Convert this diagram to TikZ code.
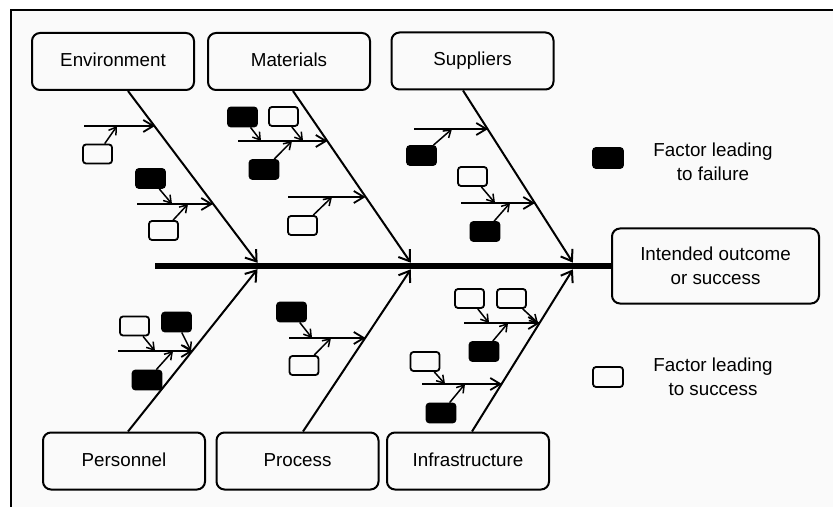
\documentclass[tikz,border=0pt]{standalone}
\usepackage{fontspec}
\setmainfont{Liberation Sans}
\usetikzlibrary{arrows.meta}

\begin{document}
\begin{tikzpicture}[x=0.5pt, y=-0.5pt,
    every node/.style={font=\fontsize{9.4}{12}\selectfont},
    box/.style={draw, rounded corners=4pt, line width=1pt, minimum width=81pt, minimum height=28.5pt},
    cat/.style={box, text height=7pt, text depth=2pt},
    good/.style={draw, rounded corners=1.5pt, line width=0.9pt, minimum width=14.5pt, minimum height=9.5pt, inner sep=0pt},
    bad/.style={good, fill=black},
    bone/.style={line width=1pt, -{Straight Barb[length=5pt,width=7pt]}, shorten >=2pt},
    rib/.style={line width=0.9pt, -{Straight Barb[length=5pt,width=6pt]}},
    twig/.style={line width=0.75pt, -{Straight Barb[length=3.5pt,width=4.5pt]}}
  ]
  \useasboundingbox (0,0) rectangle (833,507);
  \fill[gray!4] (11,10) rectangle (833,507);
  \draw[line width=1pt] (11,507) -- (11,10) -- (833,10);

  \node[cat] (env) at (113,61.5) {Environment};
  \node[cat] (mat) at (289,61.5) {Materials};
  \node[cat] (sup) at (472.5,61) {Suppliers};
  \node[cat] (per) at (124,461) {Personnel};
  \node[cat] (pro) at (297.5,461) {Process};
  \node[cat] (inf) at (468,461) {Infrastructure};
  \node[box, minimum width=103.5pt, minimum height=37.5pt, align=center] (out) at (715.5,266) {Intended outcome\\or success};

  \coordinate (tail) at (155,266);
  \coordinate (j1) at (260,266);
  \coordinate (j2) at (413,266);
  \coordinate (j3) at (575,266);
  \draw[line width=3pt] (tail) -- (out.west);

  \draw[bone] ([xshift=7.5pt]env.south) -- (j1);
  \draw[bone] ([xshift=2pt]mat.south) -- (j2);
  \draw[bone] ([xshift=-4.75pt]sup.south) -- (j3);
  \draw[bone] ([xshift=2pt]per.north) -- (j1);
  \draw[bone] ([xshift=2.75pt]pro.north) -- (j2);
  \draw[bone] ([xshift=2pt]inf.north) -- (j3);

  \coordinate (r1s) at (84,126);   \coordinate (r1e) at (155,126);
  \coordinate (r2s) at (137,204);  \coordinate (r2e) at (213,204);
  \coordinate (r3s) at (238,141);  \coordinate (r3e) at (327.5,141);
  \coordinate (r4s) at (288,197);  \coordinate (r4e) at (365.5,197);
  \coordinate (r5s) at (414,129);  \coordinate (r5e) at (488,129);
  \coordinate (r6s) at (461,203);  \coordinate (r6e) at (535,203);
  \coordinate (r7s) at (118,351);  \coordinate (r7e) at (193,351);
  \coordinate (r8s) at (289,338);  \coordinate (r8e) at (365.5,338);
  \coordinate (r9s) at (464,323);  \coordinate (r9e) at (540,323);
  \coordinate (r10s) at (422,384); \coordinate (r10e) at (502,384);
  \draw[rib] (r1s) -- (r1e);
  \draw[rib] (r2s) -- (r2e);
  \draw[rib] (r3s) -- (r3e);
  \draw[rib] (r4s) -- (r4e);
  \draw[rib] (r5s) -- (r5e);
  \draw[rib] (r6s) -- (r6e);
  \draw[rib] (r7s) -- (r7e);
  \draw[rib] (r8s) -- (r8e);
  \draw[rib] (r9s) -- (r9e);
  \draw[rib] (r10s) -- (r10e);

  \node[good] (eg1) at (97.5,154) {};
  \node[bad] (eb1) at (150.5,178.5) {};
  \node[good] (eg2) at (163.5,230.5) {};
  \node[bad] (mb1) at (242.5,117) {};
  \node[good] (mg1) at (283.5,116.5) {};
  \node[bad] (mb2) at (264,169.5) {};
  \node[good] (mg2) at (302.5,225.5) {};
  \node[bad] (sb1) at (421.5,155.5) {};
  \node[good] (sg1) at (472.5,176.5) {};
  \node[bad] (sb2) at (485,231.5) {};
  \node[good] (pg1) at (134.5,326) {};
  \node[bad] (pb1) at (176.5,322) {};
  \node[bad] (pb2) at (147,380) {};
  \node[bad] (cb1) at (291.5,312) {};
  \node[good] (cg1) at (304,365.5) {};
  \node[good] (ig1) at (469.5,298.5) {};
  \node[good] (ig2) at (511.5,298.5) {};
  \node[bad] (ib1) at (484,351.5) {};
  \node[good] (ig3) at (425,361.5) {};
  \node[bad] (ib2) at (441,413) {};

  \coordinate (eg1t) at (117,126);
  \coordinate (eb1t) at (172,204);
  \coordinate (eg2t) at (188,204);
  \coordinate (mb1t) at (261,141);
  \coordinate (mg1t) at (303,141);
  \coordinate (mb2t) at (292,141);
  \coordinate (mg2t) at (332,197);
  \coordinate (sb1t) at (452,129);
  \coordinate (sg1t) at (495,203);
  \coordinate (sb2t) at (510,203);
  \coordinate (pg1t) at (155,351);
  \coordinate (pb1t) at (191,351);
  \coordinate (pb2t) at (173,351);
  \coordinate (cb1t) at (312,338);
  \coordinate (cg1t) at (331,338);
  \coordinate (ig1t) at (489,323);
  \coordinate (ig2t) at (538,323);
  \coordinate (ib1t) at (508,323);
  \coordinate (ig3t) at (445,384);
  \coordinate (ib2t) at (465,384);
  \draw[twig] (eg1) -- (eg1t);
  \draw[twig] (eb1) -- (eb1t);
  \draw[twig] (eg2) -- (eg2t);
  \draw[twig] (mb1) -- (mb1t);
  \draw[twig] (mg1) -- (mg1t);
  \draw[twig] (mb2) -- (mb2t);
  \draw[twig] (mg2) -- (mg2t);
  \draw[twig] (sb1) -- (sb1t);
  \draw[twig] (sg1) -- (sg1t);
  \draw[twig] (sb2) -- (sb2t);
  \draw[twig] (pg1) -- (pg1t);
  \draw[twig] (pb1) -- (pb1t);
  \draw[twig] (pb2) -- (pb2t);
  \draw[twig] (cb1) -- (cb1t);
  \draw[twig] (cg1) -- (cg1t);
  \draw[twig] (ig1) -- (ig1t);
  \draw[twig] (ig2) -- (ig2t);
  \draw[twig] (ib1) -- (ib1t);
  \draw[twig] (ig3) -- (ig3t);
  \draw[twig] (ib2) -- (ib2t);

  \node[bad, minimum width=15pt, minimum height=10pt] (keybad) at (608,158) {};
  \node[align=center] (keybadtext) at (713,162) {Factor leading\\to failure};
  \node[good, minimum width=15pt, minimum height=10pt] (keygood) at (608,377) {};
  \node[align=center] (keygoodtext) at (713,376.5) {Factor leading\\to success};
\end{tikzpicture}
\end{document}
